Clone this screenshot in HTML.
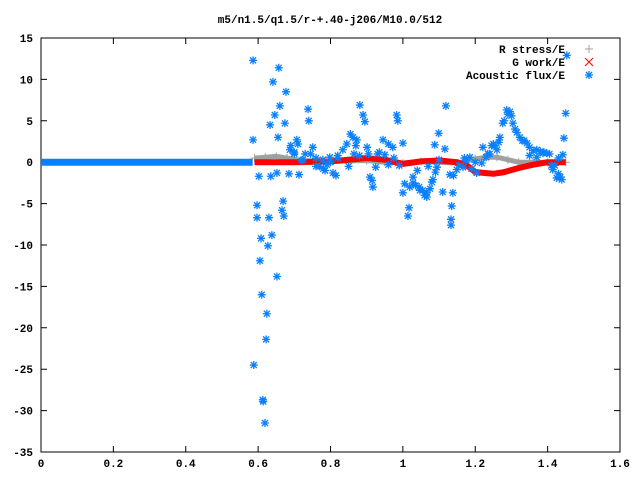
<!DOCTYPE html>
<html><head><meta charset="utf-8"><style>
body{margin:0;background:#fff}
svg{display:block;font-family:"Liberation Mono",monospace;font-size:11px;font-weight:bold}
</style></head><body>
<svg id="chart" width="640" height="480" viewBox="0 0 640 480">
<rect width="640" height="480" fill="#fff"/>
<text x="330" y="23" text-anchor="middle">m5/n1.5/q1.5/r-+.40-j206/M10.0/512</text>
<g id="axes"></g>
<g id="series"></g>
<g id="legend"></g>
</svg>
<script>
const xTicks=[0,0.2,0.4,0.6,0.8,1,1.2,1.4,1.6];
const xTickLabels=["0","0.2","0.4","0.6","0.8","1","1.2","1.4","1.6"];
const yTicks=[-35,-30,-25,-20,-15,-10,-5,0,5,10,15];
const flatX=[0,0.585];
const flatY=[0,0];
const rstressX=[0.59,0.62,0.65,0.68,0.72,0.8,0.9,0.95,1.0,1.05,1.1,1.15,1.2,1.23,1.26,1.29,1.32,1.36,1.4,1.45];
const rstressY=[0.5,0.6,0.7,0.5,0.2,0.1,0.2,0.0,-0.1,0.1,0.0,-0.1,0.4,0.6,0.6,0.3,0.0,0.0,0.0,0.0];
const gworkX=[0.59,0.65,0.7,0.8,0.85,0.9,0.95,1.0,1.05,1.1,1.15,1.18,1.2,1.25,1.28,1.32,1.36,1.4,1.45];
const gworkY=[0.0,0.0,0.0,0.1,0.3,0.5,0.3,-0.2,0.1,0.2,0.0,-0.5,-1.2,-1.4,-1.2,-0.7,-0.3,0.0,0.0];
const acX=[.586,.657,.641,.677,.660,.646,.633,.674,.655,.586,.738,.740,.881,.890,.895,.983,.986,.602,.635,.652,.685,.713,.597,.669,.666,.671,.597,.630,1.0,1.017,1.014,.608,.638,.627,.605,.652,.610,.624,.622,.588,.613,.614,.619,1.453,1.119,1.099,1.088,1.116,1.450,1.445,1.442,1.135,1.133,1.133,1.138,1.110,1.221,1.260,1.268,1.276,1.287,1.296,1.304,1.323,1.343,1.370,1.398,1.414,1.425,1.439,.798,.807,.834,.862,.873,.909,.917,.945,.972,1.0,1.028,1.055,.751,.707,.688,.724,.779,.901,1.019,1.066,1.028,1.047,1.066,1.083,1.094,1.166,1.185,1.204,1.149,1.218,1.370,1.387,.70,.72,.76,.78,.82,.85,.93,.96,1.04,1.07,1.13,1.17,1.24,1.35,1.43,1.41,
.69,.70,.71,.73,.745,.76,.77,.785,.79,.80,.815,.82,.845,.855,.865,.87,.88,.905,.915,.925,.935,.95,.96,.975,.99,1.005,1.035,1.045,1.06,1.075,1.08,1.09,1.10,1.14,1.155,1.175,1.19,1.20,1.23,1.235,1.245,1.25,1.255,1.265,1.28,1.29,1.30,1.31,1.315,1.33,1.335,1.35,1.36,1.38,1.39,1.405,1.42,1.43,1.435];
const acY=[12.3,11.4,9.7,8.5,6.8,5.7,4.5,4.7,3.0,2.7,6.4,5.0,6.9,5.7,4.9,5.7,5.0,-1.7,-1.7,-1.3,-1.4,-1.5,-5.2,-4.7,-5.8,-6.5,-6.7,-6.7,-3.7,-5.5,-6.5,-9.2,-8.8,-10.1,-11.9,-13.8,-16.0,-18.3,-21.4,-24.5,-28.7,-28.9,-31.5,12.9,6.8,3.5,2.1,1.6,5.9,2.9,0.9,-5.3,-6.9,-7.6,-3.7,-3.6,1.8,1.5,3.0,4.7,6.3,6.1,4.7,3.0,2.3,1.5,1.1,-0.9,-1.9,-2.1,0.6,-1.3,1.5,3.0,2.7,-1.8,-3.0,2.7,1.8,2.3,-1.8,-3.4,1.8,2.7,1.5,0.3,0.3,1.8,-3.0,-4.2,-2.5,-3.4,-3.7,-2.1,-0.6,-0.6,0.6,-1.3,-0.9,-0.1,0.6,1.1,1.0,0.2,-0.5,-0.8,0.5,-0.5,1.0,-0.3,-1.0,-0.5,-1.5,0.5,1.0,0.8,0.5,-0.4,
2.0,1.2,2.2,1.0,1.0,0.5,-0.5,-1.0,-0.3,0.0,-1.6,0.8,2.2,3.4,1.0,2.0,0.8,1.0,-2.2,-0.6,1.2,0.9,2.2,0.5,-0.4,-2.6,-2.8,-3.0,-4.0,-3.2,-2.4,-1.2,0.3,-1.6,-0.4,0.2,-0.8,0.0,0.6,1.0,2.0,2.2,2.0,2.4,5.0,5.8,5.6,4.0,3.6,2.6,2.6,1.8,1.4,1.3,1.2,1.0,-0.4,-1.4,-1.8];

const L=41,R=620,T=38,B=452;
const sx=v=>L+(v-0)/(1.6-0)*(R-L);
const sy=v=>B-(v-(-35))/(15-(-35))*(B-T);
const NS="http://www.w3.org/2000/svg";
function mk(tag,attrs,parent){const e=document.createElementNS(NS,tag);for(const k in attrs)e.setAttribute(k,attrs[k]);parent.appendChild(e);return e;}
const ax=document.getElementById('axes');
const fr=mk('rect',{x:L,y:T,width:R-L,height:B-T,fill:'none',stroke:'#000','stroke-width':1},ax);


xTicks.forEach((t,i)=>{
  const x=sx(t);
  const l1=mk('path',{d:`M${x} ${B}v-6M${x} ${T}v6`,stroke:'#000'},ax);
  
  
  const tx=mk('text',{x:x,y:B+15,'text-anchor':'middle'},ax);
  tx.textContent=xTickLabels[i];
  
  
});
yTicks.forEach(t=>{
  const y=sy(t);
  const l1=mk('path',{d:`M${L} ${y}h6M${R} ${y}h-6`,stroke:'#000'},ax);
  
  
  const tx=mk('text',{x:L-8,y:y+4,'text-anchor':'end'},ax);
  tx.textContent=String(t);
  
  
});
const sg=document.getElementById('series');
function star(x,y,c,p){const g=mk('path',{d:`M${x-4} ${y}h8M${x} ${y-4}v8M${x-3} ${y-3}l6 6M${x-3} ${y+3}l6 -6`,stroke:c,'stroke-width':1.3,fill:'none'},p);return g;}
function line(xs,ys,c,w,name){
  const d=xs.map((v,i)=>(i?'L':'M')+sx(v)+' '+sy(ys[i])).join('');
  const p=mk('path',{d:d,stroke:c,'stroke-width':w,fill:'none','stroke-linejoin':'round'},sg);
  
  
}
line(flatX,flatY,'#0a80ff',7,'acoustic-flux-flat');
line(rstressX,rstressY,'#a0a0a0',5,'r-stress-series');
rstressX.forEach((v,i)=>{const m=mk('path',{d:`M${sx(v)-4} ${sy(rstressY[i])}h8M${sx(v)} ${sy(rstressY[i])-4}v8`,stroke:'#a0a0a0'},sg);
  
  });
line(gworkX,gworkY,'#ff0000',6,'g-work-series');
acX.forEach((v,i)=>{const m=star(sx(v),sy(acY[i]),'#0a80ff',sg);
  
  });
const lg=document.getElementById('legend');
const names=['R stress/E','G work/E','Acoustic flux/E'];
names.forEach((n,i)=>{
  const y=49+i*13;
  const t=mk('text',{x:565,y:y+4,'text-anchor':'end'},lg);
  t.textContent=n;
  
  
  let m;
  if(i==0)m=mk('path',{d:`M585 ${y}h8M589 ${y-4}v8`,stroke:'#a0a0a0'},lg);
  else if(i==1)m=mk('path',{d:`M585 ${y-4}l8 8M585 ${y+4}l8 -8`,stroke:'#ff0000'},lg);
  else m=star(589,y,'#0a80ff',lg);
  
  
});
</script>
</body></html>
